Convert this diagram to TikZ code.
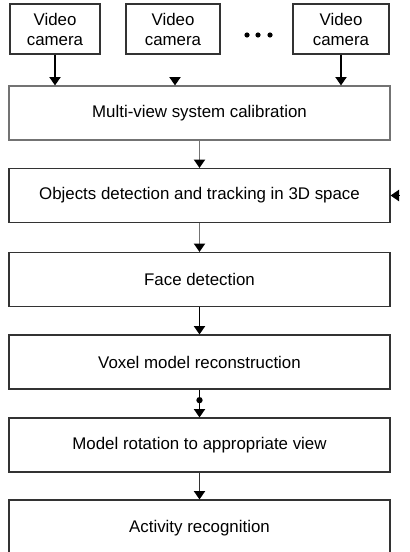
\documentclass[tikz,border=0pt]{standalone}
\usepackage{fontspec}
\setmainfont{Liberation Sans}
\usetikzlibrary{arrows.meta,positioning,calc}

\begin{document}
\begin{tikzpicture}[
    font=\fontsize{12pt}{14.2pt}\selectfont,
    camera/.style={draw=black!80, line width=0.8pt, rectangle, minimum width=2.3cm, minimum height=1.25cm, align=center, inner sep=1pt},
    stage/.style={draw=black!80, line width=0.8pt, rectangle, minimum width=9.525cm, minimum height=1.35cm},
    flow/.style={-{Triangle[width=8pt,length=6pt,black]}, line width=0.9pt, black},
    greyflow/.style={flow, draw=black!55},
    junction/.style={circle, fill=black, inner sep=0pt, minimum size=4.5pt}
]
    \useasboundingbox (0,0) rectangle (10.25,-13.8);

    % --- Cameras ---
    \node[camera, minimum width=2.25cm] (cam1) at (1.375, -0.725) {Video\\camera};
    \node[camera, minimum width=2.35cm] (cam2) at (4.325, -0.725) {Video\\camera};
    \node[camera, minimum width=2.4cm] (cam3) at (8.525, -0.725) {Video\\camera};

    % dots between the cameras
    \foreach \x in {6.175, 6.45, 6.75}
        \fill (\x, -0.875) circle (0.065);

    % --- Processing stages ---
    \node[stage, draw=black!55] (calib) at (4.9875, -2.825) {Multi-view system calibration};
    \node[stage] (track) at (4.9875, -4.8875) {Objects detection and tracking in 3D space};
    \node[stage] (face) at (4.9875, -6.9875) {Face detection};
    \node[stage] (voxel) at (4.9875, -9.05) {Voxel model reconstruction};
    \node[stage] (rotate) at (4.9875, -11.125) {Model rotation to appropriate view};
    \node[stage, minimum height=1.4cm] (activity) at (4.9875, -13.2) {Activity recognition};

    % Cameras to calibration
    \draw[flow] (cam1.south) -- (cam1.south |- calib.north);
    \coordinate (cam2tip) at ($(cam2.south |- calib.north)+(0.05,0.21)$);
    \draw[flow] (cam2tip) -- (cam2tip |- calib.north);
    \draw[flow] (cam3.south) -- (cam3.south |- calib.north);

    % Stage to stage
    \draw[greyflow] (calib.south) -- (track.north);
    \draw[greyflow] (track.south) -- (face.north);
    \draw[flow] (face.south) -- (voxel.north);
    \node[junction] (j1) at ($(voxel.south)!0.38!(rotate.north)$) {};
    \draw[flow] (voxel.south) -- (rotate.north);
    \draw[flow, draw=black!80] (rotate.south) -- (activity.north);

    % input from the right
    \coordinate (side) at ($(track.east)+(0.21,0)$);
    \draw[flow] (side) -- (track.east);

\end{tikzpicture}
\end{document}
